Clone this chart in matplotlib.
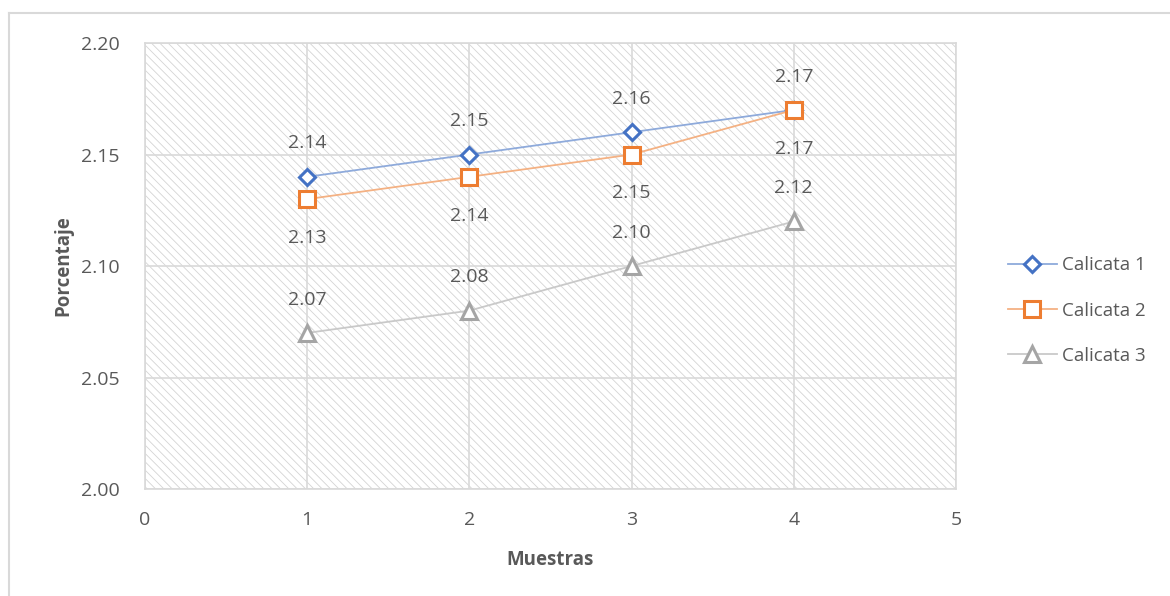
import matplotlib
matplotlib.use('Agg')
import matplotlib.pyplot as plt
from matplotlib.lines import Line2D
from matplotlib.patches import Rectangle

# Sample data
muestras = [1, 2, 3, 4]
calicata_1 = [2.14, 2.15, 2.16, 2.17]
calicata_2 = [2.13, 2.14, 2.15, 2.17]
calicata_3 = [2.07, 2.08, 2.10, 2.12]
y_ticks = [2.00, 2.05, 2.10, 2.15, 2.20]
x_ticks = [0, 1, 2, 3, 4, 5]

plt.rcParams['font.family'] = ['Open Sans', 'DejaVu Sans']
plt.rcParams['hatch.linewidth'] = 0.6
text_color = '#595959'
grid_color = '#d9d9d9'

fig = plt.figure(figsize=(11.7, 5.96), dpi=100)
ax = fig.add_axes([0.1239, 0.1795, 0.6932, 0.7483])

# Outer chart border (left and top only visible)
fig.add_artist(Line2D([0.0077, 0.0077], [0, 0.979], transform=fig.transFigure,
                      color='#d9d9d9', lw=1.5))
fig.add_artist(Line2D([0.0077, 1], [0.979, 0.979], transform=fig.transFigure,
                      color='#d9d9d9', lw=1.5))

# Hatched plot area
ax.add_patch(Rectangle((0, 0), 1, 1, transform=ax.transAxes, facecolor='white',
                       edgecolor='#d4d4d4', linewidth=0, hatch='\\\\\\\\', zorder=0))

ax.set_xlim(0, 5)
ax.set_ylim(2.00, 2.20)
ax.set_xticks(x_ticks)
ax.set_yticks(y_ticks)
ax.set_yticklabels([f'{v:.2f}' for v in y_ticks])
ax.grid(True, color=grid_color, lw=1.2, zorder=1)
for s in ax.spines.values():
    s.set_color(grid_color)
    s.set_linewidth(1.2)
ax.tick_params(axis='y', length=0, labelsize=14, labelcolor=text_color, pad=18)
ax.tick_params(axis='x', length=0, labelsize=14, labelcolor=text_color, pad=16)

series = [
    ('Calicata 1', calicata_1, '#4472c4', '#8eaadb', 'D', 8, 'above'),
    ('Calicata 2', calicata_2, '#ed7d31', '#f4b183', 's', 11, 'below'),
    ('Calicata 3', calicata_3, '#a5a5a5', '#c9c9c9', '^', 11, 'above'),
]
for name, vals, mcol, lcol, mk, ms, pos in series:
    ax.plot(muestras, vals, color=lcol, lw=1.3, zorder=3, label=name,
            marker=mk, markersize=ms, markerfacecolor='white',
            markeredgecolor=mcol, markeredgewidth=2.2)
    for x, v in zip(muestras, vals):
        off = 24 if pos == 'above' else -28
        ax.annotate(f'{v:.2f}', (x, v), xytext=(0, off), textcoords='offset points',
                    ha='center', va='center', fontsize=14, color=text_color, zorder=4)

ax.set_xlabel('Muestras', fontsize=13.5, fontweight='bold', color=text_color, labelpad=15)
ax.set_ylabel('Porcentaje', fontsize=13.5, fontweight='bold', color=text_color, labelpad=6)

leg = fig.legend(loc='center left', bbox_to_anchor=(0.847, 0.479), frameon=False,
                 fontsize=13.5, labelspacing=1.45, handlelength=2.6, handletextpad=0.3)
for t in leg.get_texts():
    t.set_color(text_color)

plt.savefig('out.png', dpi=100)
plt.close()
